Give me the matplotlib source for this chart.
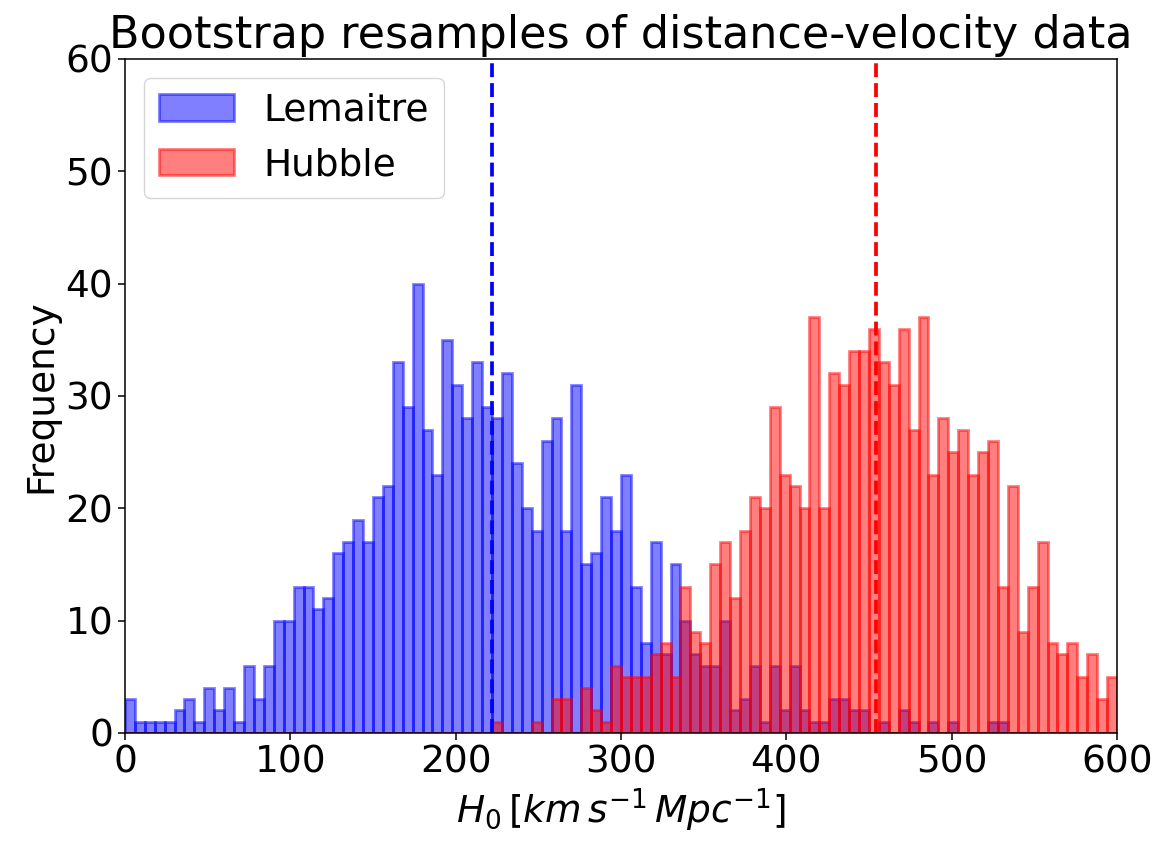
import matplotlib
matplotlib.use('Agg')
import matplotlib.pyplot as plt
import numpy as np

# Histogram bins: 100 bins of width 6 from 0 to 600
bin_edges = np.linspace(0, 600, 101)

# Bin counts of the bootstrapped H0 estimates
lemaitre_counts = [
    3, 1, 1, 1, 1, 2, 3, 1, 4, 2, 4, 1, 6,
    3, 6, 10, 10, 13, 13, 11, 12, 16, 17, 19, 17, 21,
    22, 33, 29, 40, 27, 23, 35, 31, 28, 33, 29, 28,
    32, 24, 20, 18, 26, 28, 18, 31, 15, 16, 21, 18, 23,
    13, 8, 17, 7, 15, 10, 7, 6, 6, 10, 2, 3,
    6, 1, 6, 2, 6, 2, 1, 1, 3, 3, 2, 2,
    0, 1, 0, 2, 1, 0, 1, 0, 1, 0, 0, 0, 1, 1,
    0, 0, 0, 0, 0, 0, 0, 0, 0, 0, 0,
]
hubble_counts = [0] * 37 + [
    1, 0, 0, 0, 1, 0, 3, 3, 0, 4, 2, 1, 6, 5,
    5, 5, 7, 8, 5, 13, 9, 8, 15, 17, 12, 18,
    21, 20, 29, 23, 22, 20, 37, 20, 32, 31, 34, 34,
    36, 33, 31, 36, 27, 37, 23, 28, 25, 27, 23, 25, 26,
    13, 22, 9, 13, 17, 8, 7, 8, 5, 7, 3, 5,
]

# Mean H0 of each resample set
lemaitre_mean = 222
hubble_mean = 454

plt.rcParams['font.size'] = 27
plt.rcParams['axes.linewidth'] = 1.1
plt.rcParams['xtick.major.size'] = 5
plt.rcParams['ytick.major.size'] = 5
plt.rcParams['xtick.major.width'] = 1.1
plt.rcParams['ytick.major.width'] = 1.1

bin_centers = 0.5 * (bin_edges[:-1] + bin_edges[1:])

fig = plt.figure(figsize=(11.57, 8.42), dpi=100)
ax = fig.add_axes([0.108, 0.1295, 0.8574, 0.8005])

ax.hist(bin_centers, bins=bin_edges, weights=lemaitre_counts, color='blue',
        edgecolor='blue', linewidth=2, alpha=0.5, label='Lemaitre')
ax.hist(bin_centers, bins=bin_edges, weights=hubble_counts, color='red',
        edgecolor='red', linewidth=2, alpha=0.5, label='Hubble')

ax.axvline(lemaitre_mean, color='blue', linestyle='--', linewidth=2.7)
ax.axvline(hubble_mean, color='red', linestyle='--', linewidth=2.7)

ax.set_xlim(0, 600)
ax.set_ylim(0, 60)
ax.set_xlabel(r'$H_0\,[km\,s^{-1}\,Mpc^{-1}]$')
ax.set_ylabel('Frequency')
ax.set_title('Bootstrap resamples of distance-velocity data', fontsize=32, pad=8)
ax.legend(loc='upper left')

fig.savefig('out.png', dpi=100)
